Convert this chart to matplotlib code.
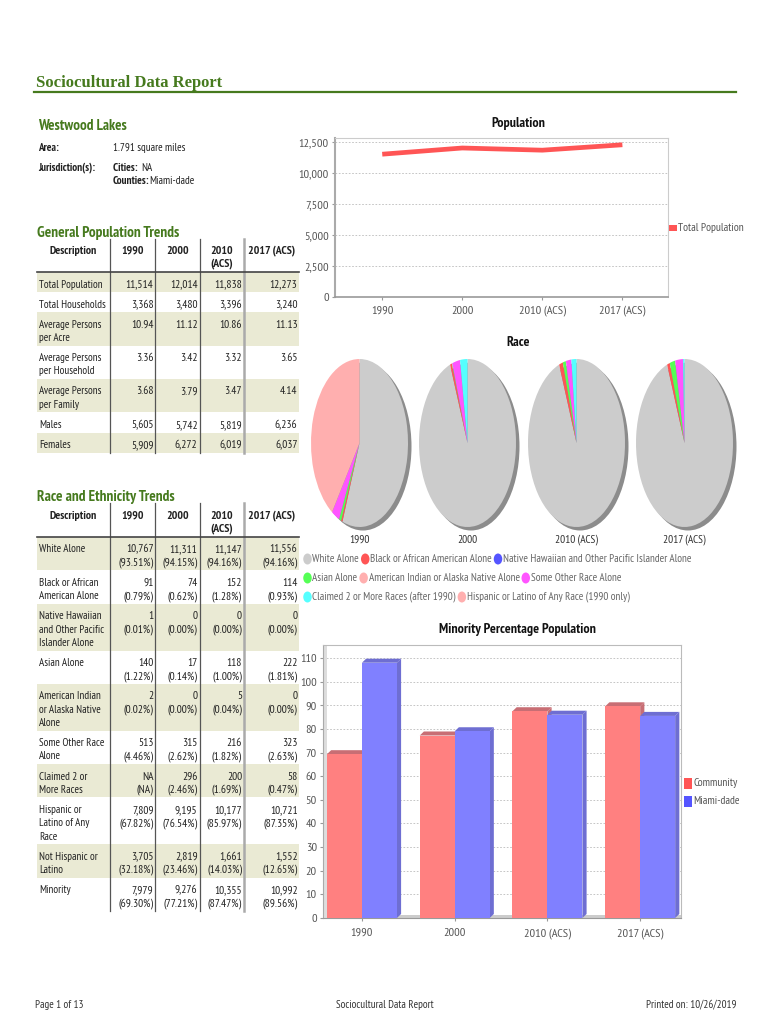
import matplotlib
matplotlib.use("Agg")
import matplotlib.pyplot as plt
from matplotlib.patches import Rectangle, Ellipse, Polygon
from matplotlib.ticker import FuncFormatter

# ---------------- data ----------------
years = ["1990", "2000", "2010 (ACS)", "2017 (ACS)"]
total_population = [11514, 12014, 11838, 12273]
total_households = [3368, 3480, 3396, 3240]
persons_per_acre = [10.94, 11.12, 10.86, 11.13]
persons_per_household = [3.36, 3.42, 3.32, 3.65]
persons_per_family = [3.68, 3.79, 3.47, 4.14]
males = [5605, 5742, 5819, 6236]
females = [5909, 6272, 6019, 6037]

white = [10767, 11311, 11147, 11556]
white_pct = [93.51, 94.15, 94.16, 94.16]
black = [91, 74, 152, 114]
black_pct = [0.79, 0.62, 1.28, 0.93]
hawaiian = [1, 0, 0, 0]
hawaiian_pct = [0.01, 0.00, 0.00, 0.00]
asian = [140, 17, 118, 222]
asian_pct = [1.22, 0.14, 1.00, 1.81]
amindian = [2, 0, 5, 0]
amindian_pct = [0.02, 0.00, 0.04, 0.00]
other_race = [513, 315, 216, 323]
other_race_pct = [4.46, 2.62, 1.82, 2.63]
two_plus = [None, 296, 200, 58]
two_plus_pct = [None, 2.46, 1.69, 0.47]
hispanic = [7809, 9195, 10177, 10721]
hispanic_pct = [67.82, 76.54, 85.97, 87.35]
not_hispanic = [3705, 2819, 1661, 1552]
not_hispanic_pct = [32.18, 23.46, 14.03, 12.65]
minority = [7979, 9276, 10355, 10992]
minority_pct = [69.30, 77.21, 87.47, 89.56]

pie_hispanic = [7809, 0, 0, 0]          # shown in pies for 1990 only
miami_dade_minority_pct = [108, 79, 86, 85.5]

race_legend = ["White Alone", "Black or African American Alone",
               "Native Hawaiian and Other Pacific Islander Alone", "Asian Alone",
               "American Indian or Alaska Native Alone", "Some Other Race Alone",
               "Claimed 2 or More Races (after 1990)",
               "Hispanic or Latino of Any Race (1990 only)"]
race_colors = ["#CCCCCC", "#FF5555", "#5555FF", "#55FF55", "#FFAFAF",
               "#FF55FF", "#55FFFF", "#FFAFAF"]

# ---------------- fonts ----------------
plt.rcParams["font.family"] = ["PT Sans Narrow", "IBM Plex Sans Condensed",
                               "Liberation Sans Narrow", "DejaVu Sans"]
SERIF = ["Liberation Serif", "DejaVu Serif"]

W, H = 770, 1024
GREEN = "#467A1E"
SHADE = "#EAEAD4"
TXT = "#222222"
GRAY = "#555555"
FS = 7.9
TICK_FS = 8.8
CT_FS = 10

fig = plt.figure(figsize=(W / 100, H / 100), dpi=100)
bg = fig.add_axes([0, 0, 1, 1])
bg.set_xlim(0, W)
bg.set_ylim(H, 0)
bg.axis("off")
renderer = fig.canvas.get_renderer()
inv = bg.transData.inverted()


def pxax(l, t, w, h):
    return fig.add_axes([l / W, 1 - (t + h) / H, w / W, h / H])


def txt(x, y, s, size=FS, **kw):
    kw.setdefault("color", TXT)
    kw.setdefault("va", "center")
    return bg.text(x, y, s, fontsize=size, **kw)


def right_edge(t):
    bb = t.get_window_extent(renderer=renderer)
    return inv.transform((bb.x1, bb.y0))[0]


# ---------------- header ----------------
bg.text(36, 87, "Sociocultural Data Report", family=SERIF, fontweight="bold",
        fontsize=12.0, color=GREEN, va="baseline")
bg.plot([34, 736], [91.5, 91.5], color=GREEN, lw=1.6)

txt(38, 126, "Westwood Lakes", size=10.8, fontweight="bold", color=GREEN)
txt(38, 148, "Area:", fontweight="bold")
txt(113, 148, "1.791 square miles")
txt(38, 168, "Jurisdiction(s):", fontweight="bold")
t = txt(113, 168, "Cities: ", fontweight="bold")
txt(right_edge(t) + 1, 168, "NA")
t = txt(113, 181, "Counties:", fontweight="bold")
txt(right_edge(t), 181, "Miami-dade")

# ---------------- tables ----------------
VAL_X = [153.5, 197.5, 242, 297.5]
COL_SEP = [110, 155, 200]
HFS = 8.5


def fmt_num(v):
    if v is None:
        return "NA"
    if isinstance(v, float):
        return f"{v:.2f}"
    return f"{v:,}"


def fmt_pct(p):
    return "(NA)" if p is None else f"({p:.2f}%)"


def draw_table(title, title_y, rule_y, sep_top, rows):
    txt(37, title_y, title, size=11, fontweight="bold", color=GREEN)
    txt(73, rule_y - 21, "Description", size=HFS, fontweight="bold", ha="center")
    centers = [132.5, 177.5, 222, 271.5]
    txt(centers[0], rule_y - 21, "1990", size=HFS, fontweight="bold", ha="center")
    txt(centers[1], rule_y - 21, "2000", size=HFS, fontweight="bold", ha="center")
    txt(centers[2], rule_y - 21, "2010", size=HFS, fontweight="bold", ha="center")
    txt(centers[2], rule_y - 8, "(ACS)", size=HFS, fontweight="bold", ha="center")
    txt(centers[3], rule_y - 21, "2017 (ACS)", size=HFS, fontweight="bold", ha="center")
    y = rule_y
    for i, (label, vals) in enumerate(rows):
        n = max(len(label), max(len(v) for v in vals))
        h = 6.8 + 13.3 * n
        if i % 2 == 0:
            bg.add_patch(Rectangle((37, y), 262, h, facecolor=SHADE,
                                   edgecolor="none", zorder=0))
        for k, line in enumerate(label):
            txt(39, y + 12.5 + 13.3 * k, line)
        for c, v in enumerate(vals):
            for k, line in enumerate(v):
                txt(VAL_X[c], y + 12.5 + 13.3 * k, line, size=8.2, ha="right")
        y += h
    for x in COL_SEP:
        bg.plot([x, x], [sep_top, y], color="#555555", lw=0.9, zorder=2)
    bg.plot([244, 244], [sep_top, y], color="#AAAAAA", lw=1.8, zorder=2)
    bg.plot([37, 299], [rule_y, rule_y], color="#444444", lw=1.2, zorder=2)


gen_rows = [
    (["Total Population"], [[fmt_num(v)] for v in total_population]),
    (["Total Households"], [[fmt_num(v)] for v in total_households]),
    (["Average Persons", "per Acre"], [[fmt_num(v)] for v in persons_per_acre]),
    (["Average Persons", "per Household"], [[fmt_num(v)] for v in persons_per_household]),
    (["Average Persons", "per Family"], [[fmt_num(v)] for v in persons_per_family]),
    (["Males"], [[fmt_num(v)] for v in males]),
    (["Females"], [[fmt_num(v)] for v in females]),
]
draw_table("General Population Trends", 233, 272, 239, gen_rows)


def cp(counts, pcts):
    return [[fmt_num(c), fmt_pct(p)] for c, p in zip(counts, pcts)]


race_rows = [
    (["White Alone"], cp(white, white_pct)),
    (["Black or African", "American Alone"], cp(black, black_pct)),
    (["Native Hawaiian", "and Other Pacific", "Islander Alone"], cp(hawaiian, hawaiian_pct)),
    (["Asian Alone"], cp(asian, asian_pct)),
    (["American Indian", "or Alaska Native", "Alone"], cp(amindian, amindian_pct)),
    (["Some Other Race", "Alone"], cp(other_race, other_race_pct)),
    (["Claimed 2 or", "More Races"], cp(two_plus, two_plus_pct)),
    (["Hispanic or", "Latino of Any", "Race"], cp(hispanic, hispanic_pct)),
    (["Not Hispanic or", "Latino"], cp(not_hispanic, not_hispanic_pct)),
    (["Minority"], cp(minority, minority_pct)),
]
draw_table("Race and Ethnicity Trends", 497, 537, 503, race_rows)

# ---------------- population line chart ----------------
txt(518, 123, "Population", size=CT_FS, fontweight="bold", ha="center", color="#111111")
ax1 = pxax(335, 138, 333, 159)
xs = list(range(len(years)))
ax1.plot(xs, total_population, color="#FF5555", lw=3.4, solid_capstyle="butt")
ax1.set_xlim(-0.59, 3.57)
ax1.set_ylim(0, 12820)
ax1.set_yticks(range(0, 12501, 2500))
ax1.yaxis.set_major_formatter(FuncFormatter(lambda v, p: f"{int(v):,}"))
ax1.set_xticks(xs)
ax1.set_xticklabels(years)
ax1.grid(axis="y", color="#BBBBBB", lw=0.6, ls=(0, (2, 2)))
ax1.set_axisbelow(True)
for s in ("top", "right"):
    ax1.spines[s].set_color("#CCCCCC")
    ax1.spines[s].set_linewidth(0.8)
ax1.spines["left"].set_color("#AAAAAA")
ax1.spines["left"].set_linewidth(1.5)
ax1.spines["bottom"].set_color("#999999")
ax1.spines["bottom"].set_linewidth(1.2)
ax1.tick_params(colors="#999999", labelcolor=GRAY, labelsize=TICK_FS, length=2.5, pad=2)
ax1.tick_params(axis="x", pad=9.5)
for lab in ax1.get_xticklabels():
    lab.set_verticalalignment("baseline")
bg.add_patch(Rectangle((669, 225), 8, 6, facecolor="#FF5555", edgecolor="none"))
txt(678, 228, "Total Population", size=8.2, color=GRAY)

# ---------------- race pies ----------------
txt(518, 343, "Race", size=CT_FS, fontweight="bold", ha="center", color="#111111")
pie_boxes = [311, 419, 528, 636]
PW, PH, PT, SH = 97, 168, 359, 6
for i, left in enumerate(pie_boxes):
    vals = [white[i], black[i], hawaiian[i], asian[i], amindian[i],
            other_race[i], two_plus[i] or 0, pie_hispanic[i]]
    ax = pxax(left, PT, PW + SH, PH + SH)
    ax.add_patch(Ellipse((3.5 / (PW / 2), -3.5 / (PH / 2)), 2, 2,
                         facecolor="#8C8C8C", edgecolor="none", zorder=0))
    ax.pie(vals, colors=race_colors, startangle=90, counterclock=False,
           radius=1, wedgeprops=dict(linewidth=0, edgecolor="none"))
    ax.set_xlim(-1, -1 + 2 * (PW + SH) / PW)
    ax.set_ylim(1 - 2 * (PH + SH) / PH, 1)
    ax.set_aspect("auto")
    ax.axis("off")
    txt(left + PW / 2, 540, years[i], size=8.2, ha="center", color="#333333")

legend_rows = [[0, 1, 2], [3, 4, 5], [6, 7]]
for r, items in enumerate(legend_rows):
    yy = 559 + 19 * r
    x = 303
    for k in items:
        bg.add_patch(Ellipse((x + 4.5, yy), 8.5, 11, facecolor=race_colors[k],
                             edgecolor="none"))
        t = txt(x + 9.5, yy, race_legend[k], size=8.0, color="#666666")
        x = right_edge(t) + 1.5

# ---------------- minority bar chart ----------------
txt(517, 629, "Minority Percentage Population", size=CT_FS, fontweight="bold",
    ha="center", color="#111111")
ax2 = pxax(323, 645, 358, 273)
ax2.set_xlim(-0.42, 3.44)
ax2.set_ylim(0, 115.5)
bw = 0.377
dx, dy = 0.045, 1.7
series = [(minority_pct, -bw / 2, "#FF8080", "#C86E74", 2),
          (miami_dade_minority_pct, bw / 2, "#8080FF", "#6E6ED2", 4)]
for vals, off, front, dark, z in series:
    pos = [x + off for x in xs]
    ax2.bar(pos, vals, width=bw, color=front, zorder=z + 1, linewidth=0)
    for p, v in zip(pos, vals):
        xl, xr = p - bw / 2, p + bw / 2
        ax2.add_patch(Polygon([(xl, v), (xl + dx, v + dy), (xr + dx, v + dy), (xr, v)],
                              closed=True, facecolor=dark, edgecolor="none", zorder=z))
        ax2.add_patch(Polygon([(xr, 0), (xr + dx, dy), (xr + dx, v + dy), (xr, v)],
                              closed=True, facecolor=dark, edgecolor="none", zorder=z))
ax2.add_patch(Rectangle((0, 0), 1, 1.3 / 115.5, transform=ax2.transAxes,
                        facecolor="#CCCCCC", edgecolor="none", zorder=1))
ax2.add_patch(Rectangle((0, 0), 4 / 358, 1, transform=ax2.transAxes,
                        facecolor="#DDDDDD", edgecolor="none", zorder=1))
ax2.set_yticks(range(0, 111, 10))
ax2.set_xticks(xs)
ax2.set_xticklabels(years)
ax2.grid(axis="y", color="#BBBBBB", lw=0.6, ls=(0, (2, 2)))
ax2.set_axisbelow(True)
for s in ("top", "right"):
    ax2.spines[s].set_color("#BBBBBB")
    ax2.spines[s].set_linewidth(0.8)
ax2.spines["left"].set_color("#AAAAAA")
ax2.spines["bottom"].set_color("#999999")
ax2.tick_params(colors="#999999", labelcolor=GRAY, labelsize=TICK_FS, length=2.5, pad=2)
ax2.tick_params(axis="x", pad=10.5)
for lab in ax2.get_xticklabels():
    lab.set_verticalalignment("baseline")
bg.add_patch(Rectangle((684, 778), 8, 11, facecolor="#FF5555", edgecolor="none"))
txt(693, 783.5, "Community", size=8.2, color=GRAY)
bg.add_patch(Rectangle((684, 796), 8, 11, facecolor="#5555FF", edgecolor="none"))
txt(693, 801.5, "Miami-dade", size=8.2, color=GRAY)

# ---------------- footer ----------------
txt(35, 1005, "Page 1 of 13", color="#333333")
txt(385, 1005, "Sociocultural Data Report", color="#333333", ha="center")
txt(736, 1005, "Printed on: 10/26/2019", color="#333333", ha="right")

fig.savefig("out.png", dpi=100)
